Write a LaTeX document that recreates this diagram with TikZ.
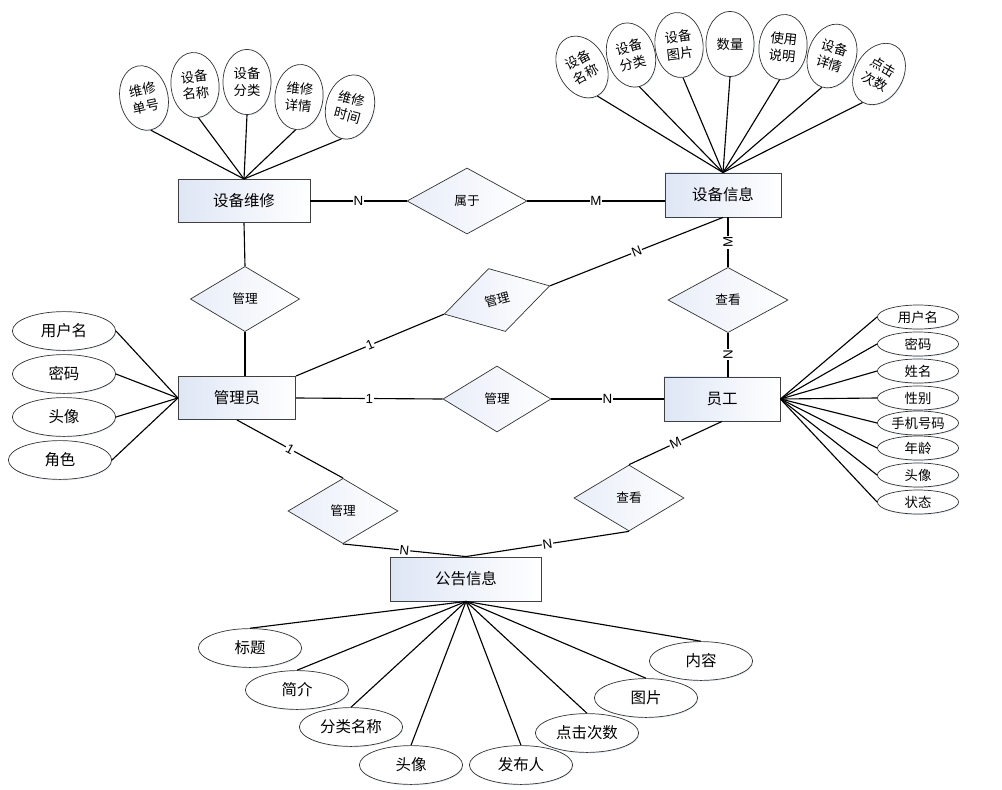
\documentclass[tikz,border=0pt]{standalone}
\usepackage{fontspec}
\setmainfont{Noto Sans CJK SC}
\newfontfamily\cardfont{Liberation Sans}
\usetikzlibrary{shapes.geometric,shadows}

\begin{document}
\begin{tikzpicture}[x=0.025cm,y=-0.025cm,
	 entity node/.style={rectangle,draw=black!75,line width=0.6pt,left color=entityblue,right color=white,minimum height=1.08cm,font=\fontsize{11}{13}\selectfont},
	 rel node/.style={diamond,draw=black!80,line width=0.5pt,left color=relblue,right color=white,inner sep=0pt,minimum width=2.73cm,minimum height=1.63cm,font=\fontsize{9}{11}\selectfont},
	 attr node/.style={ellipse,draw=black!80,line width=0.5pt,fill=white,inner sep=0pt,drop shadow={shadow xshift=0.5pt,shadow yshift=-0.7pt,opacity=1,fill=shadowblue}},
	 wide attr/.style={attr node,minimum width=2.58cm,minimum height=0.97cm,font=\fontsize{11}{13}\selectfont},
	 small attr/.style={attr node,minimum width=2.03cm,minimum height=0.6cm,font=\fontsize{9.5}{11}\selectfont},
	 tall attr/.style={attr node,minimum width=1.2cm,minimum height=1.63cm,align=center,font=\fontsize{9.5}{12}\selectfont},
	 link/.style={line width=0.8pt},
	 card/.style={fill=white,inner sep=0.6pt,sloped,font=\cardfont\fontsize{9.5}{11}\selectfont},
	 vcard/.style={fill=white,inner sep=0.6pt,rotate=90,font=\cardfont\fontsize{9.5}{11}\selectfont}]

	\definecolor{entityblue}{RGB}{222,230,245}
	\definecolor{relblue}{RGB}{232,237,248}
	\definecolor{shadowblue}{RGB}{225,234,250}

	\useasboundingbox (0,0) rectangle (1002,790);

	% entities
	\draw (244,201) node[entity node,minimum width=3.3cm]  (e1) {设备维修};
	\draw (723,195) node[entity node,minimum width=2.9cm,minimum height=1.1cm] (e2) {设备信息};
	\draw (237,398) node[entity node,minimum width=2.93cm] (e3) {管理员};
	\draw (722,399) node[entity node,minimum width=2.9cm,minimum height=1.1cm] (e4) {员工};
	\draw (466,579) node[entity node,minimum width=3.78cm,minimum height=1.1cm] (e5) {公告信息};

	% relations
	\draw (467,201) node[rel node,minimum width=3cm,minimum height=1.65cm] (r1) {属于};
	\draw (245,299) node[rel node] (r2) {管理};
	\draw (497,300) node[rel node,rotate=15] (r3) {管理};
	\draw (728,300) node[rel node,minimum width=3cm] (r4) {查看};
	\draw (497,399) node[rel node,minimum width=2.7cm,minimum height=1.65cm] (r5) {管理};
	\draw (343,511) node[rel node,minimum width=2.75cm] (r6) {管理};
	\draw (629,498) node[rel node,minimum width=2.75cm,minimum height=1.65cm] (r7) {查看};

	% attributes of 设备维修
	\draw (144,98)  node[tall attr,rotate=12]  (a1) {维修\\单号};
	\draw (195,85)  node[tall attr,rotate=6]   (a2) {设备\\名称};
	\draw (247,82)  node[tall attr]            (a3) {设备\\分类};
	\draw (299,97)  node[tall attr,rotate=-6]  (a4) {维修\\详情};
	\draw (350,107) node[tall attr,rotate=-15] (a5) {维修\\时间};

	% attributes of 设备信息
	\draw (582,67) node[tall attr,rotate=28]  (b1) {设备\\名称};
	\draw (631,55) node[tall attr,rotate=15]  (b2) {设备\\分类};
	\draw (679,45) node[tall attr,rotate=7]   (b3) {设备\\图片};
	\draw (730,44) node[tall attr]            (b4) {数量};
	\draw (783,47) node[tall attr,rotate=-6]  (b5) {使用\\说明};
	\draw (832,56) node[tall attr,rotate=-18] (b6) {设备\\详情};
	\draw (879,74) node[tall attr,rotate=-30] (b7) {点击\\次数};

	% attributes of 管理员
	\draw (64,331) node[wide attr] (c1) {用户名};
	\draw (64,374) node[wide attr] (c2) {密码};
	\draw (64,417) node[wide attr] (c3) {头像};
	\draw (60,460) node[wide attr] (c4) {角色};

	% attributes of 员工
	\draw (918,317) node[small attr] (d1) {用户名};
	\draw (918,344) node[small attr] (d2) {密码};
	\draw (918,371) node[small attr] (d3) {姓名};
	\draw (918,398) node[small attr] (d4) {性别};
	\draw (918,423) node[small attr] (d5) {手机号码};
	\draw (918,448) node[small attr] (d6) {年龄};
	\draw (918,475) node[small attr] (d7) {头像};
	\draw (918,502) node[small attr] (d8) {状态};

	% attributes of 公告信息
	\draw (250,648) node[wide attr] (f1) {标题};
	\draw (297,690) node[wide attr] (f2) {简介};
	\draw (351,727) node[wide attr] (f3) {分类名称};
	\draw (411,765) node[wide attr] (f4) {头像};
	\draw (521,765) node[wide attr] (f5) {发布人};
	\draw (587,733) node[wide attr] (f6) {点击次数};
	\draw (646,698) node[wide attr] (f7) {图片};
	\draw (701,661) node[wide attr] (f8) {内容};

	\path[link]
	(a1.south) edge (e1.north)
	(a2.south) edge (e1.north)
	(a3.south) edge (e1.north)
	(a4.south) edge (e1.north)
	(a5.south) edge (e1.north)
	(b1.south) edge (e2.north)
	(b2.south) edge (e2.north)
	(b3.south) edge (e2.north)
	(b4.south) edge (e2.north)
	(b5.south) edge (e2.north)
	(b6.south) edge (e2.north)
	(b7.south) edge (e2.north)
	(c1.east) edge (e3.west)
	(c2.east) edge (e3.west)
	(c3.east) edge (e3.west)
	(c4.east) edge (e3.west)
	(e4.east) edge (d1.west)
	          edge (d2.west)
	          edge (d3.west)
	          edge (d4.west)
	          edge (d5.west)
	          edge (d6.west)
	          edge (d7.west)
	          edge (d8.west)
	(e5.south) edge (f1.north)
	           edge (f2.north)
	           edge (f3.north)
	           edge (f4.north)
	           edge (f5.north)
	           edge (f6.north)
	           edge (f7.north)
	           edge (f8.north);

	\path[link]
	(e1.east) edge node[card] {N} (r1.west)
	(r1.east) edge node[card] {M} (r1.east -| e2.west)
	(e1.south) edge (r2.north)
	(r2.south) edge (r2.south |- e3.north)
	(e3.north east) edge node[card] {1} (r3.west)
	(r3.east) edge node[card] {N} (e2.south)
	(r4.north) edge node[vcard] {M} (r4.north |- e2.south)
	(r4.south) edge node[vcard] {N} (r4.south |- e4.north)
	(e3.east) edge node[card] {1} (r5.west)
	(r5.east) edge node[card] {N} (e4.west)
	(e3.south) edge node[card] {1} (r6.north)
	(r6.south) edge node[card] {N} (e5.north)
	(e4.south) edge node[card] {M} (r7.north)
	(r7.south) edge node[card] {N} (e5.north);

\end{tikzpicture}
\end{document}
